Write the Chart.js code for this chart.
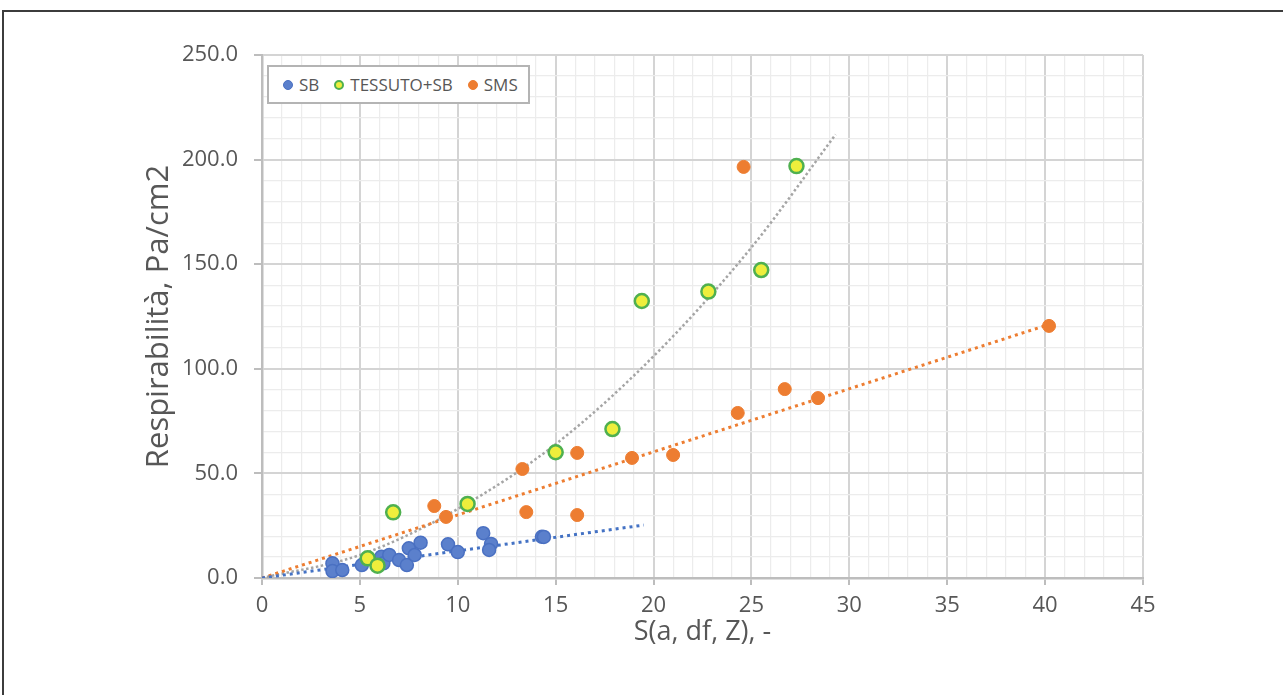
<!DOCTYPE html>
<html>
<head>
<meta charset="utf-8">
<script src="https://cdn.jsdelivr.net/npm/chart.js@4.4.0/dist/chart.umd.min.js"></script>
<style>
  body { margin: 0; background: #fff; }
  #wrap { position: relative; width: 1283px; height: 695px; overflow: hidden; background: #fff; }
  #frame { position: absolute; left: 2px; top: 10px; width: 1400px; height: 800px;
           border-top: 2px solid #3c3c3c; border-left: 2px solid #3c3c3c; }
  #legend { position: absolute; left: 267px; top: 65px; width: 263px; height: 39px;
            border: 2px solid #b4b4b4; background: #fff; box-sizing: border-box;
            display: flex; align-items: center; padding-left: 14px;
            font-family: "Open Sans", sans-serif; font-size: 17px; color: #575757; }
  #legend .item { display: flex; align-items: center; margin-right: 15px; }
  #legend .dot { width: 10px; height: 10px; border-radius: 50%; margin-right: 6px; box-sizing: border-box; }
  canvas { position: absolute; left: 0; top: 0; }
</style>
</head>
<body>
<div id="wrap">
  <div id="frame"></div>
  <canvas id="myChart" width="1283" height="695"></canvas>
  <div id="legend"></div>
</div>
<script>
// series names and colours
var seriesNames = ['SB', 'TESSUTO+SB', 'SMS'];
var seriesFill = ['#5b80cc', '#eeee3c', '#ed7d31'];
var seriesBorder = ['#4a70c2', '#4fb04f', '#ed7d31'];

// SB
var sbX = [3.6, 3.6, 4.1, 5.1, 6.1, 6.2, 6.5, 7.0, 7.4, 7.5, 7.8, 8.1, 9.5, 10.0, 11.3, 11.7, 11.6, 14.3, 14.4];
var sbY = [7.0, 3.3, 3.8, 6.2, 10.2, 7.0, 11.0, 8.6, 6.2, 14.2, 11.0, 16.9, 16.1, 12.4, 21.4, 16.3, 13.4, 19.7, 19.6];

// TESSUTO+SB
var tessX = [27.3, 25.5, 22.8, 19.4, 17.9, 15.0, 10.5, 6.7, 5.4, 5.9];
var tessY = [196.9, 147.2, 136.9, 132.4, 71.2, 60.1, 35.4, 31.4, 9.4, 5.9];

// SMS
var smsX = [24.6, 40.2, 26.7, 28.4, 24.3, 21.0, 18.9, 16.1, 13.3, 13.5, 16.1, 8.8, 9.4];
var smsY = [196.5, 120.5, 90.3, 86.0, 78.9, 58.8, 57.4, 59.8, 52.1, 31.5, 30.1, 34.4, 29.2];

// trendlines
var sbTrendX = [0, 19.5];
var sbTrendY = [0, 25.3];
var smsTrendX = [0, 40.2];
var smsTrendY = [0, 121.2];
var tessTrendX = [0, 5, 10, 15, 20, 25, 29.3];
var tessTrendY = [0, 11, 33, 64, 106, 158, 212];

// axis settings
var xMax = 45, yMax = 250;
var xTitle = 'S(a, df, Z), -';
var yTitle = 'Respirabilità, Pa/cm2';

function pts(xs, ys) {
    return xs.map(function (x, i) { return { x: x, y: ys[i] }; });
}

var textColor = '#575757';
var font = 'Open Sans';

var ctx = document.getElementById('myChart').getContext('2d');
var myChart = new Chart(ctx, {
    type: 'scatter',
    data: {
        datasets: [
            {
                label: seriesNames[0], data: pts(sbX, sbY), order: 3,
                backgroundColor: seriesFill[0], borderColor: seriesBorder[0],
                borderWidth: 1.5, pointRadius: 6.5
            },
            {
                label: seriesNames[1], data: pts(tessX, tessY), order: 1,
                backgroundColor: seriesFill[1], borderColor: seriesBorder[1],
                borderWidth: 2.5, pointRadius: 7
            },
            {
                label: seriesNames[2], data: pts(smsX, smsY), order: 2,
                backgroundColor: seriesFill[2], borderColor: seriesBorder[2],
                borderWidth: 1, pointRadius: 6.5
            },
            {
                label: 'trend SB', data: pts(sbTrendX, sbTrendY), order: 10,
                showLine: true, pointRadius: 0, borderColor: '#4472c4',
                borderWidth: 3, borderDash: [3, 4]
            },
            {
                label: 'trend SMS', data: pts(smsTrendX, smsTrendY), order: 10,
                showLine: true, pointRadius: 0, borderColor: '#ed7d31',
                borderWidth: 3, borderDash: [3, 4]
            },
            {
                label: 'trend TESSUTO+SB', data: pts(tessTrendX, tessTrendY), order: 10,
                showLine: true, pointRadius: 0, borderColor: '#a5a5a5',
                borderWidth: 2.5, borderDash: [2.5, 2.5],
                tension: 0.4, cubicInterpolationMode: 'monotone'
            }
        ]
    },
    options: {
        responsive: false,
        animation: false,
        layout: { padding: { left: 138, top: 55, right: 140, bottom: 35 } },
        plugins: {
            legend: { display: false },
            tooltip: { enabled: false }
        },
        scales: {
            x: {
                type: 'linear', min: 0, max: xMax,
                afterFit: function (scale) { scale.height = 82; },
                border: { color: '#bdbdbd', width: 2.5 },
                grid: {
                    color: function (c) { return c.tick.value % 5 === 0 ? '#d4d4d4' : '#ececec'; },
                    lineWidth: function (c) { return c.tick.value % 5 === 0 ? 2 : 1.2; },
                    tickColor: function (c) { return c.tick.value % 5 === 0 ? '#bdbdbd' : 'rgba(0,0,0,0)'; },
                    tickLength: 7
                },
                ticks: {
                    stepSize: 1, autoSkip: false, maxRotation: 0, padding: 8,
                    color: textColor, font: { family: font, size: 22 },
                    callback: function (v) { return v % 5 === 0 ? String(v) : ''; }
                },
                title: {
                    display: true, text: xTitle, color: textColor,
                    font: { family: font, size: 27 }, padding: { top: 2, bottom: 11 }
                }
            },
            y: {
                min: 0, max: yMax,
                afterFit: function (scale) { scale.width = 124; },
                border: { color: '#bdbdbd', width: 2.5 },
                grid: {
                    color: function (c) { return c.tick.value % 50 === 0 ? '#d4d4d4' : '#ececec'; },
                    lineWidth: function (c) { return c.tick.value % 50 === 0 ? 2 : 1.2; },
                    tickColor: function (c) { return c.tick.value % 50 === 0 ? '#bdbdbd' : 'rgba(0,0,0,0)'; },
                    tickLength: 8
                },
                ticks: {
                    stepSize: 10, autoSkip: false, padding: 16,
                    color: textColor, font: { family: font, size: 22 },
                    callback: function (v) { return v % 50 === 0 ? v.toFixed(1) : ''; }
                },
                title: {
                    display: true, text: yTitle, color: textColor,
                    font: { family: font, size: 31 }, padding: { top: 3, bottom: 0 }
                }
            }
        }
    }
});

// legend inside the plot, built from the series arrays
var legend = document.getElementById('legend');
seriesNames.forEach(function (name, i) {
    var item = document.createElement('div');
    item.className = 'item';
    var dot = document.createElement('span');
    dot.className = 'dot';
    dot.style.background = seriesFill[i];
    dot.style.border = (i === 1 ? 2 : 1) + 'px solid ' + seriesBorder[i];
    var label = document.createElement('span');
    label.textContent = name;
    item.appendChild(dot);
    item.appendChild(label);
    legend.appendChild(item);
});
</script>
</body>
</html>
